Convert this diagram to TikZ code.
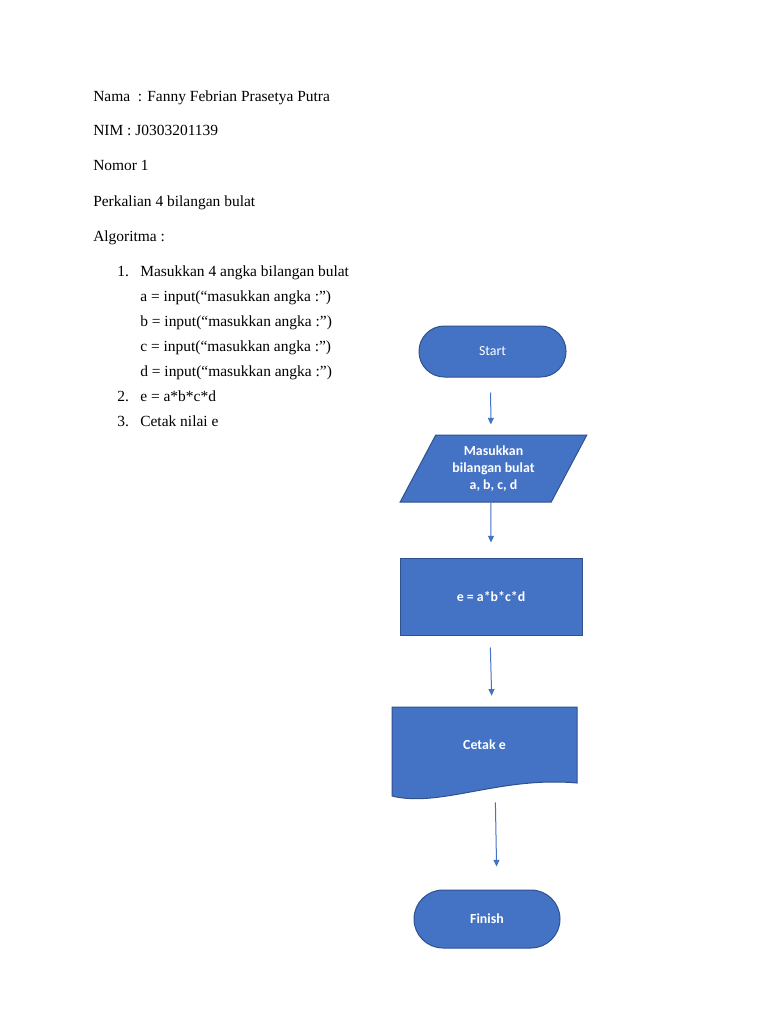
\documentclass[tikz,border=0pt]{standalone}
\usepackage{fontspec}
\setmainfont{Liberation Serif}
\newfontfamily\calibri{Carlito}
\usepackage{xcolor}
\usetikzlibrary{arrows.meta}
\usetikzlibrary{shapes.geometric}
\definecolor{wordblue}{HTML}{4472C4}
\definecolor{wordedge}{HTML}{2F528F}
\tikzstyle{txt}=[anchor=base west,inner sep=0pt,font=\fontsize{11.6}{13}\selectfont]
\tikzstyle{fclabel}=[text=white,font=\calibri\fontsize{10.4}{13}\selectfont,align=center,inner sep=2pt]
\tikzstyle{fcbox}=[fclabel,fill=wordblue,draw=wordedge,line width=.75pt]
\tikzstyle{terminal}=[fcbox,rectangle,rounded corners=19pt,minimum width=110.25pt,minimum height=38.25pt]
\tikzstyle{process}=[fcbox,rectangle,minimum width=136.5pt,minimum height=57.75pt]
\tikzstyle{io}=[fcbox,trapezium,trapezium left angle=62.4,trapezium right angle=117.6,trapezium stretches=true,minimum width=140.25pt,minimum height=50.25pt]
\tikzstyle{docbox}=[fclabel,rectangle,minimum width=138.75pt,minimum height=57pt]
\tikzstyle{docline}=[fill=wordblue,draw=wordedge,line width=.75pt]
\tikzstyle{flow}=[draw=wordblue,line width=.75pt,-{Triangle[length=5pt,width=4.5pt]}]
\begin{document}
\begin{tikzpicture}[x=0.75pt,y=-0.75pt]
	\useasboundingbox[fill=white] (0,0) rectangle (768,1024);
	% header
	\node[txt] (name)  at (93,102) {Nama\ \ : Fanny Febrian Prasetya Putra};
	\node[txt] (nim)   at (93,135) {NIM : J0303201139};
	\node[txt] (nomor) at (93,170) {Nomor 1};
	\node[txt] (title) at (93,206) {Perkalian 4 bilangan bulat};
	\node[txt] (algo)  at (93,241) {Algoritma :};
	% algorithm steps
	\node[txt] (n1) at (117,276) {1.};
	\node[txt] (s1) at (140,276) {Masukkan 4 angka bilangan bulat};
	\node[txt] (sa) at (140,301) {a = input(“masukkan angka :”)};
	\node[txt] (sb) at (140,326) {b = input(“masukkan angka :”)};
	\node[txt] (sc) at (140,351) {c = input(“masukkan angka :”)};
	\node[txt] (sd) at (140,376) {d = input(“masukkan angka :”)};
	\node[txt] (n2) at (117,401) {2.};
	\node[txt] (s2) at (140,401) {e = a*b*c*d};
	\node[txt] (n3) at (117,426) {3.};
	\node[txt] (s3) at (140,426) {Cetak nilai e};
	% flowchart
	\node[terminal] (start) at (492.5,351.5) {Start};
	\node[io] (input) at (493.5,468.5) {\bfseries Masukkan\\\bfseries bilangan bulat\\\bfseries a, b, c, d};
	\node[process] (calc) at (491,596.5) {\bfseries e = a*b*c*d};
	\draw[docline] (392,707) -- (577,707) -- (577,783) .. controls (500,776) and (440,808) .. (392,796) -- cycle;
	\node[docbox] (output) at (484.5,745) {\bfseries Cetak e};
	\node[terminal,minimum width=109.5pt,minimum height=43.5pt,rounded corners=21.75pt] (finish) at (487,919) {\bfseries Finish};
	\draw[flow,shorten <=11.25pt,shorten >=7.5pt] ([xshift=-1.5pt]start.south) -- ([xshift=-1.9pt]input.north);
	\draw[flow,shorten >=11.25pt] ([xshift=-1.9pt]input.south) -- (calc.north);
	\draw[flow,shorten <=9pt,shorten >=8.25pt] ([xshift=-0.75pt]calc.south) -- ([xshift=5.6pt]output.north);
	\draw[flow,shorten <=14.25pt,shorten >=17.25pt] ([xshift=7.9pt]output.south) -- ([xshift=7.5pt]finish.north);
\end{tikzpicture}
\end{document}
